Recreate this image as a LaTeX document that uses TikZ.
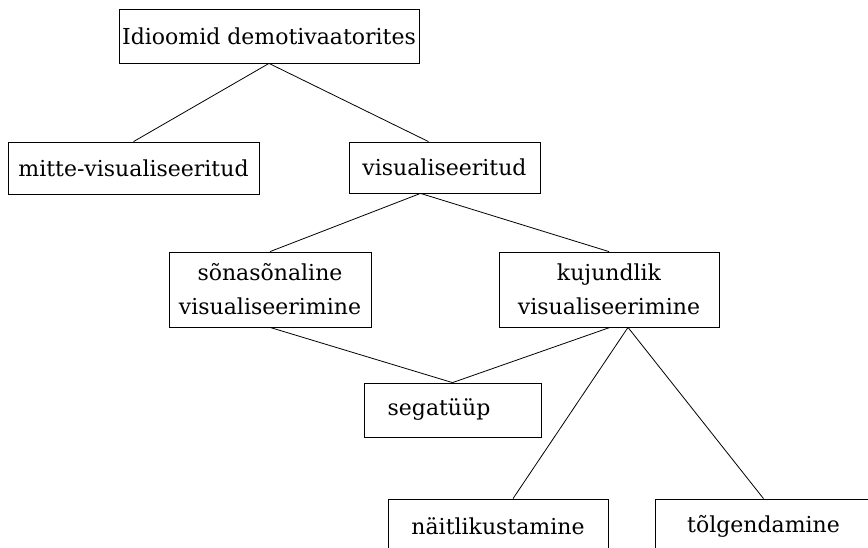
\documentclass[tikz,border=0pt]{standalone}
\usepackage{fontspec}
\setmainfont{DejaVu Serif}
\begin{document}
\begin{tikzpicture}[x=1pt,y=-1pt,
  box/.style={draw,line width=0.8pt,inner sep=0pt,align=center,
    font=\fontsize{22}{34}\selectfont},
  conn/.style={line width=0.8pt}]
\useasboundingbox (0,0) rectangle (868,547);
\clip (0,0) rectangle (868,547);
\node[box,minimum width=300pt,minimum height=54pt] (top) at (269,36) {Idioomid demotivaatorites};
\node[box,minimum width=251pt,minimum height=52pt] (mitte) at (133.5,168) {mitte-visualiseeritud};
\node[box,minimum width=191pt,minimum height=51pt] (vis) at (444.5,167.5) {visualiseeritud};
\node[box,minimum width=202pt,minimum height=75pt] (sona) at (270,289.5) {sõnasõnaline\\visualiseerimine};
\node[box,minimum width=220pt,minimum height=75pt] (kuj) at (609,289.5) {kujundlik\\visualiseerimine};
\node[box,minimum width=177pt,minimum height=54pt] (seg) at (452.5,410) {segatüüp\hspace*{27pt}};
\node[box,minimum width=220pt,minimum height=54pt] (nait) at (498,526) {näitlikustamine};
\node[box,minimum width=217pt,minimum height=54pt] (tolg) at (763.5,526) {tõlgendamine};
\draw[conn] (top.south) -- (mitte.north);
\draw[conn] (top.south) -- ([xshift=-16pt]vis.north);
\draw[conn] ([xshift=-24pt]vis.south) -- (sona.north);
\draw[conn] ([xshift=-24pt]vis.south) -- (kuj.north);
\draw[conn] (sona.south) -- (seg.north);
\draw[conn] ([xshift=1pt]kuj.south) -- (seg.north);
\draw[conn] ([xshift=19pt]kuj.south) -- ([xshift=15pt]nait.north);
\draw[conn] ([xshift=19pt]kuj.south) -- (tolg.north);
\end{tikzpicture}
\end{document}
